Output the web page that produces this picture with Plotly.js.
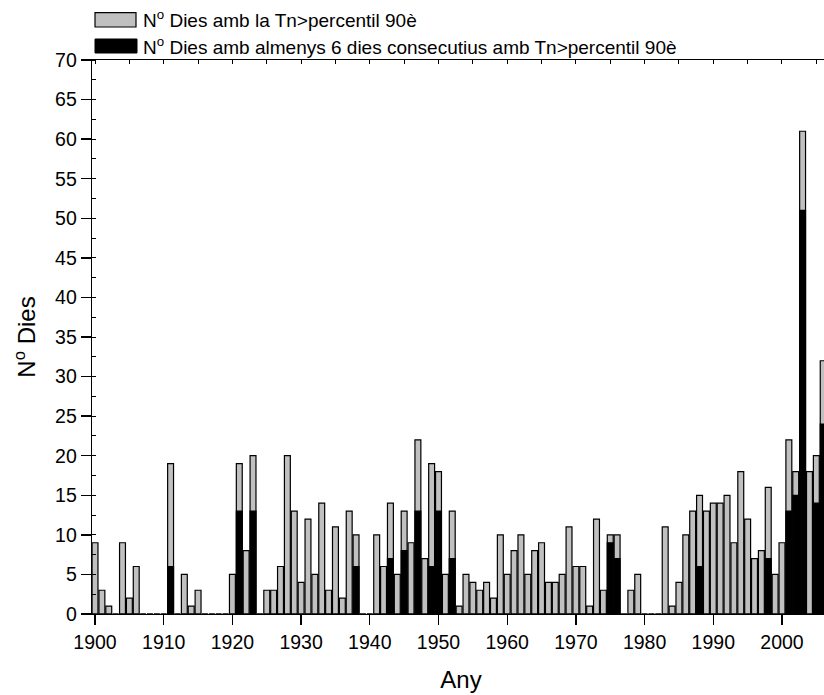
<!DOCTYPE html>
<html>
<head>
<meta charset="utf-8">
<script src="https://cdn.plot.ly/plotly-3.0.1.min.js"></script>
<style>
html, body { margin: 0; padding: 0; overflow: hidden; background: #fff; }
#chart { width: 870px; height: 695px; }
</style>
</head>
<body>
<div id="chart"></div>
<script>
// Years 1900..2006
const years = [];
for (let y = 1900; y <= 2006; y++) years.push(y);

// N° days with Tn > 90th percentile
const diesTn = [
  9, 3, 1, 0, 9, 2, 6, 0, 0, 0,
  0, 19, 0, 5, 1, 3, 0, 0, 0, 0,
  5, 19, 8, 20, 0, 3, 3, 6, 20, 13,
  4, 12, 5, 14, 3, 11, 2, 13, 10, 0,
  0, 10, 6, 14, 5, 13, 9, 22, 7, 19,
  18, 5, 13, 1, 5, 4, 3, 4, 2, 10,
  5, 8, 10, 5, 8, 9, 4, 4, 5, 11,
  6, 6, 1, 12, 3, 10, 10, 0, 3, 5,
  0, 0, 0, 11, 1, 4, 10, 13, 15, 13,
  14, 14, 15, 9, 18, 12, 7, 8, 16, 5,
  9, 22, 18, 61, 18, 20, 32
];

// N° days within runs of at least 6 consecutive days with Tn > 90th percentile
const diesConsec = [
  0, 0, 0, 0, 0, 0, 0, 0, 0, 0,
  0, 6, 0, 0, 0, 0, 0, 0, 0, 0,
  0, 13, 0, 13, 0, 0, 0, 0, 0, 0,
  0, 0, 0, 0, 0, 0, 0, 0, 6, 0,
  0, 0, 0, 7, 0, 8, 0, 13, 0, 6,
  13, 0, 7, 0, 0, 0, 0, 0, 0, 0,
  0, 0, 0, 0, 0, 0, 0, 0, 0, 0,
  0, 0, 0, 0, 0, 9, 7, 0, 0, 0,
  0, 0, 0, 0, 0, 0, 0, 0, 6, 0,
  0, 0, 0, 0, 0, 0, 0, 0, 7, 0,
  0, 13, 15, 51, 0, 14, 24
];

const yTicks = [0, 5, 10, 15, 20, 25, 30, 35, 40, 45, 50, 55, 60, 65, 70];
const xTicks = [1900, 1910, 1920, 1930, 1940, 1950, 1960, 1970, 1980, 1990, 2000];

const nameTn = 'N<sup>o</sup> Dies amb la Tn>percentil 90è';
const nameConsec = 'N<sup>o</sup> Dies amb almenys 6 dies consecutius amb Tn>percentil 90è';

const barW = 0.86;
const xRange = [1899.56, 2006.99];

const traces = [
  {
    type: 'bar', x: years, y: diesTn, name: nameTn, width: barW,
    marker: { color: '#c0c0c0', line: { color: '#000', width: 1.2 } },
    hoverinfo: 'x+y', showlegend: false
  },
  {
    type: 'bar', x: years, y: diesConsec, name: nameConsec, width: barW,
    xaxis: 'x2',
    marker: { color: '#000', line: { color: '#000', width: 1.2 } },
    hoverinfo: 'x+y', showlegend: false
  }
];

const font = 'Liberation Sans, Arial, sans-serif';

const layout = {
  width: 870, height: 695,
  margin: { l: 92, r: 40, t: 60, b: 81 },
  paper_bgcolor: '#fff', plot_bgcolor: '#fff',
  barmode: 'overlay',
  showlegend: false,
  font: { family: font, size: 19, color: '#000' },
  xaxis: {
    range: xRange, showgrid: false, zeroline: false,
    showline: true, linecolor: '#000', linewidth: 1.3,
    tickmode: 'array', tickvals: xTicks, ticktext: xTicks.map(String),
    ticks: 'outside', ticklen: 10, tickwidth: 1.3, tickcolor: '#000',
    tickfont: { family: font, size: 19.5, color: '#000' },
    title: { text: 'Any', font: { family: font, size: 24, color: '#000' }, standoff: 19 }
  },
  xaxis2: {
    range: xRange, overlaying: 'x', side: 'top', anchor: 'y',
    showgrid: false, zeroline: false,
    showline: true, linecolor: '#000', linewidth: 1.3,
    ticks: 'inside', dtick: 5, tick0: 1900, ticklen: 4, tickwidth: 1, tickcolor: '#000',
    showticklabels: false
  },
  yaxis: {
    range: [0, 70], showgrid: false, zeroline: false,
    showline: true, linecolor: '#000', linewidth: 1.3,
    tickmode: 'array', tickvals: yTicks, ticktext: yTicks.map(String),
    ticks: 'outside', ticklen: 10, tickwidth: 1.3, tickcolor: '#000',
    minor: { ticks: 'inside', dtick: 2.5, tick0: 0, ticklen: 4, tickwidth: 1, tickcolor: '#000' },
    tickfont: { family: font, size: 19.5, color: '#000' },
    title: { text: 'N<sup>o</sup> Dies', font: { family: font, size: 24, color: '#000' }, standoff: 12 }
  },
  shapes: [
    { type: 'rect', xref: 'paper', yref: 'paper', xsizemode: 'pixel', ysizemode: 'pixel',
      xanchor: 0, yanchor: 1, x0: 3, x1: 44, y0: 47.3, y1: 33,
      fillcolor: '#c0c0c0', line: { color: '#000', width: 1.2 } },
    { type: 'rect', xref: 'paper', yref: 'paper', xsizemode: 'pixel', ysizemode: 'pixel',
      xanchor: 0, yanchor: 1, x0: 3, x1: 45, y0: 21, y1: 7,
      fillcolor: '#000', line: { color: '#000', width: 1 } }
  ],
  annotations: [
    { xref: 'paper', yref: 'paper', x: 0, y: 1, xshift: 49, yshift: 41, xanchor: 'left', yanchor: 'middle',
      text: nameTn, showarrow: false, font: { family: font, size: 19, color: '#000' } },
    { xref: 'paper', yref: 'paper', x: 0, y: 1, xshift: 49, yshift: 14, xanchor: 'left', yanchor: 'middle',
      text: nameConsec, showarrow: false, font: { family: font, size: 19, color: '#000' } }
  ]
};

Plotly.newPlot('chart', traces, layout, { displayModeBar: false, staticPlot: true });
</script>
</body>
</html>
